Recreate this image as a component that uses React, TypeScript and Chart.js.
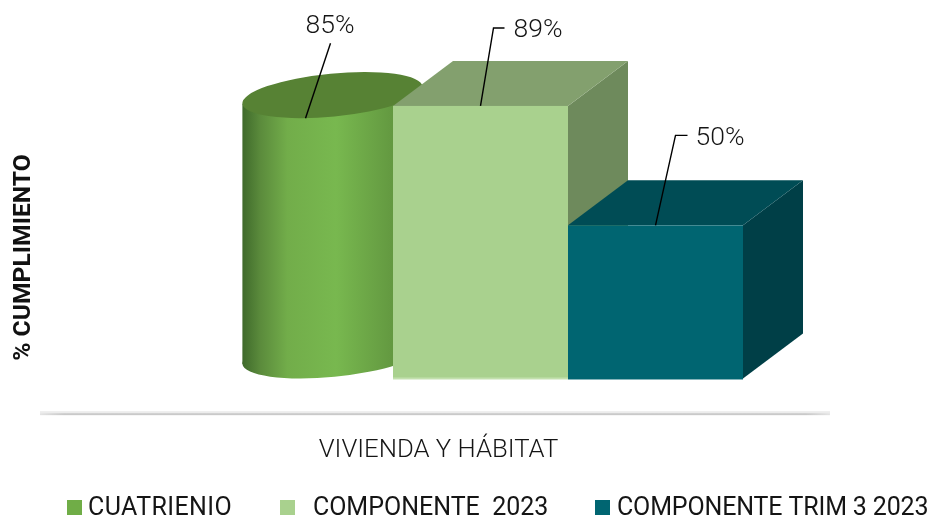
import React, { useEffect, useRef } from "react";
import { Chart, registerables } from "chart.js";

Chart.register(...registerables);

const categories = ["VIVIENDA Y HÁBITAT"];
const seriesNames = ["CUATRIENIO", "  COMPONENTE  2023", "COMPONENTE TRIM 3 2023"];
const cuatrienio = [0.85];
const componente2023 = [0.89];
const componenteTrim3 = [0.5];
const legendColors = ["#70ad47", "#a9d18e", "#006571"];
const yAxisTitle = "% CUMPLIMIENTO";

const FONT = "Roboto, 'Liberation Sans', sans-serif";
const INK = "#151515";
const SHIFT = 42;
const DEPTH_X = 60;
const DEPTH_Y = 45;

function poly(ctx: CanvasRenderingContext2D, pts: number[][], fill: any) {
  ctx.beginPath();
  pts.forEach((p, i) => (i ? ctx.lineTo(p[0], p[1]) : ctx.moveTo(p[0], p[1])));
  ctx.closePath();
  ctx.fillStyle = fill;
  ctx.fill();
}

function drawBox(ctx: CanvasRenderingContext2D, el: any, front: string, top: string, side: string, edge: string) {
  const l = el.x - el.width / 2 + SHIFT;
  const r = el.x + el.width / 2 + SHIFT;
  const t = el.y;
  const b = el.base;
  poly(ctx, [[r, t], [r + DEPTH_X, t - DEPTH_Y], [r + DEPTH_X, b - DEPTH_Y], [r, b]], side);
  poly(ctx, [[l, t], [l + DEPTH_X, t - DEPTH_Y], [r + DEPTH_X, t - DEPTH_Y], [r, t]], top);
  ctx.fillStyle = front;
  ctx.fillRect(l, t, r - l, b - t);
  ctx.fillStyle = edge;
  ctx.fillRect(l, b - 1, r - l, 2);
}

function drawCylinder(ctx: CanvasRenderingContext2D, el: any) {
  const rx = 90.5;
  const ry = 21.5;
  const rot = (-5.5 * Math.PI) / 180;
  const ext = Math.hypot(rx * Math.sin(rot), ry * Math.cos(rot));
  const cx = el.x + SHIFT + 27;
  const topY = el.y - ext;
  const botY = el.base - ext;
  const dx = Math.hypot(rx * Math.cos(rot), ry * Math.sin(rot));
  const dy = 8.6;
  const g = ctx.createLinearGradient(cx - dx, 0, cx + dx, 0);
  g.addColorStop(0, "#3f6a2b");
  g.addColorStop(0.1, "#5b8b3c");
  g.addColorStop(0.25, "#72ad4a");
  g.addColorStop(0.52, "#78b84f");
  g.addColorStop(0.82, "#649a41");
  g.addColorStop(1, "#578a38");
  ctx.fillStyle = g;
  ctx.beginPath();
  ctx.ellipse(cx, botY, rx, ry, rot, 0, Math.PI * 2);
  ctx.fill();
  poly(ctx, [[cx - dx, topY + dy], [cx - dx, botY + dy], [cx + dx, botY - dy], [cx + dx, topY - dy]], g);
  ctx.fillStyle = "#578234";
  ctx.beginPath();
  ctx.ellipse(cx, topY, rx, ry, rot, 0, Math.PI * 2);
  ctx.fill();
}

const leaderOffsets = [
  { pts: [[0, 0], [25, -75]], tx: 0, ty: -91.5 },
  { pts: [[0, 0], [13, -78], [24, -78]], tx: 33, ty: -76 },
  { pts: [[0, 0], [20, -90], [32, -90]], tx: 40, ty: -86.5 },
];

const scene3d = {
  id: "scene3d",
  beforeDatasetsDraw(chart: any) {
    const ctx: any = chart.ctx;
    const bars = chart.data.datasets.map((_: any, i: number) => chart.getDatasetMeta(i).data[0]);
    ctx.save();
    drawCylinder(ctx, bars[0]);
    drawBox(ctx, bars[1], "#a9d18e", "#83a06e", "#6e8a5c", "#c3e0ae");
    drawBox(ctx, bars[2], "#006571", "#004c55", "#003f47", "#006571");

    // floor line
    const fg = ctx.createLinearGradient(40, 0, 830, 0);
    fg.addColorStop(0, "#e4e4e4");
    fg.addColorStop(0.03, "#c9c9c9");
    fg.addColorStop(0.97, "#c9c9c9");
    fg.addColorStop(1, "#e4e4e4");
    ctx.fillStyle = "#ececec";
    ctx.fillRect(40, chart.chartArea.bottom - 1, 790, 2);
    ctx.fillStyle = fg;
    ctx.fillRect(40, chart.chartArea.bottom + 1, 790, 2);

    // value labels with leader lines
    ctx.font = `300 26.5px ${FONT}`;
    ctx.textBaseline = "middle";
    bars.forEach((el: any, i: number) => {
      const x = el.x + SHIFT;
      const o = leaderOffsets[i];
      ctx.beginPath();
      o.pts.forEach((p, k) => (k ? ctx.lineTo(x + p[0], el.y + p[1]) : ctx.moveTo(x + p[0], el.y + p[1])));
      ctx.strokeStyle = "#000";
      ctx.lineWidth = 1.4;
      ctx.stroke();
      const v = chart.data.datasets[i].data[0];
      ctx.fillStyle = INK;
      ctx.textAlign = "left";
      ctx.fillText(`${Math.round(v * 100)}%`, x + o.tx, el.y + o.ty);
    });

    // y title
    ctx.save();
    ctx.translate(24, 257.5);
    ctx.rotate(-Math.PI / 2);
    ctx.font = `700 24.7px ${FONT}`;
    ctx.textAlign = "center";
    ctx.fillStyle = "#111";
    ctx.fillText(yAxisTitle, 0, 0);
    ctx.restore();

    // legend
    const swatchX = [67, 280, 595];
    const textX = [88, 300.5, 617];
    const spacing = ["0.4px", "0px", "-0.15px"];
    ctx.font = `400 25px ${FONT}`;
    chart.data.datasets.forEach((d: any, i: number) => {
      ctx.fillStyle = d.backgroundColor;
      ctx.fillRect(swatchX[i], 500, 15, 15);
      ctx.fillStyle = INK;
      ctx.textAlign = "left";
      ctx.letterSpacing = spacing[i];
      ctx.fillText(d.label, textX[i], 509);
    });
    ctx.letterSpacing = "0px";
    ctx.restore();
    return false;
  },
};

export default function App() {
  const ref = useRef<HTMLCanvasElement>(null);
  useEffect(() => {
    const chart = new Chart(ref.current!, {
      type: "bar",
      data: {
        labels: categories,
        datasets: [
          { label: seriesNames[0], data: cuatrienio, backgroundColor: legendColors[0] },
          { label: seriesNames[1], data: componente2023, backgroundColor: legendColors[1] },
          { label: seriesNames[2], data: componenteTrim3, backgroundColor: legendColors[2] },
        ],
      },
      options: {
        responsive: false,
        animation: false,
        layout: { padding: { left: 40, right: 93, top: 11, bottom: 52 } },
        datasets: { bar: { categoryPercentage: 525 / 797, barPercentage: 1 } },
        plugins: { legend: { display: false }, tooltip: { enabled: false } },
        scales: {
          x: {
            grid: { display: false },
            border: { display: false },
            ticks: { display: false },
            title: {
              display: true,
              text: categories[0],
              color: INK,
              font: { family: FONT, size: 25.7, weight: "300" },
              padding: { top: 15, bottom: 0 },
            },
          },
          y: { display: false, min: -0.11, max: 1.2 },
        },
      } as any,
      plugins: [scene3d as any],
    });
    return () => chart.destroy();
  }, []);
  return (
    <canvas
      ref={ref}
      width={930}
      height={518}
      style={{ position: "absolute", left: 0, top: 0, display: "block" }}
    />
  );
}
